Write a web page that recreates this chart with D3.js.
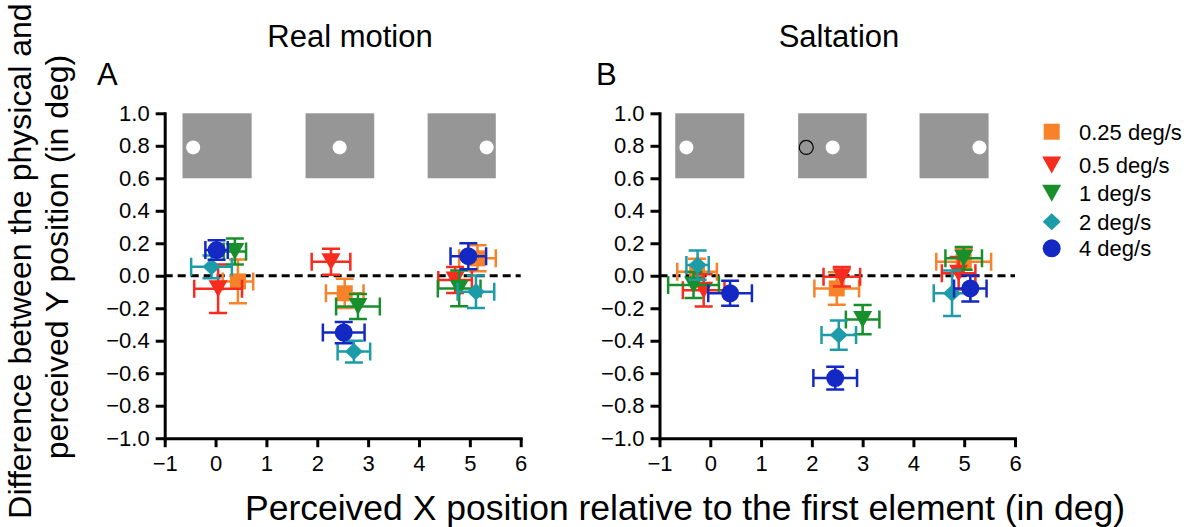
<!DOCTYPE html>
<html><head><meta charset="utf-8">
<script src="https://cdn.jsdelivr.net/npm/d3@7"></script>
<style>body{margin:0;background:#fff}svg{display:block}</style>
</head><body>
<svg id="chart" width="1188" height="527"></svg>
<script>
// ---------- data ----------
const speeds = ["0.25 deg/s", "0.5 deg/s", "1 deg/s", "2 deg/s", "4 deg/s"];
const colors = ["#f7822a", "#f52c1e", "#17902c", "#1c9ba8", "#1428c4"];
const shapes = ["square", "down", "down", "diamond", "circle"];

const xTicks = [-1, 0, 1, 2, 3, 4, 5, 6];
const yTicks = [-1.0, -0.8, -0.6, -0.4, -0.2, 0.0, 0.2, 0.4, 0.6, 0.8, 1.0];

// Panel A: Real motion (rows = speeds, columns = 3 stimulus positions)
const realX = [
  [0.44, 2.54, 5.15],
  [0.05, 2.27, 4.71],
  [0.38, 2.80, 4.79],
  [-0.08, 2.72, 5.12],
  [0.02, 2.52, 4.97]
];
const realY = [
  [-0.035, -0.108, 0.107],
  [-0.08, 0.086, -0.026],
  [0.15, -0.19, -0.078],
  [0.055, -0.467, -0.098],
  [0.158, -0.35, 0.12]
];
const realXErr = [
  [0.30, 0.37, 0.36],
  [0.47, 0.38, 0.33],
  [0.22, 0.43, 0.42],
  [0.40, 0.32, 0.36],
  [0.22, 0.41, 0.35]
];
const realYErr = [
  [0.135, 0.09, 0.08],
  [0.15, 0.08, 0.08],
  [0.08, 0.077, 0.11],
  [0.07, 0.067, 0.10],
  [0.06, 0.065, 0.08]
];

// Panel B: Saltation
const saltX = [
  [-0.26, 2.49, 4.99],
  [-0.13, 2.59, 4.89],
  [-0.33, 3.00, 4.99],
  [-0.25, 2.53, 4.76],
  [0.39, 2.46, 5.12]
];
const saltY = [
  [0.025, -0.078, 0.086],
  [-0.09, -0.006, 0.015],
  [-0.057, -0.27, 0.107],
  [0.066, -0.365, -0.108],
  [-0.108, -0.63, -0.078]
];
const saltXErr = [
  [0.39, 0.44, 0.54],
  [0.41, 0.36, 0.33],
  [0.50, 0.33, 0.36],
  [0.22, 0.34, 0.36],
  [0.43, 0.43, 0.32]
];
const saltYErr = [
  [0.08, 0.10, 0.08],
  [0.10, 0.06, 0.10],
  [0.08, 0.09, 0.07],
  [0.09, 0.09, 0.14],
  [0.077, 0.07, 0.08]
];

// Stimulus illustrations (data coordinates)
const boxY = [0.6, 1.0];
const dotY = 0.79;
const realBoxes = [[-0.65, 0.71], [1.77, 3.12], [4.17, 5.51]];
const realDots = [-0.44, 2.44, 5.33];
const saltBoxes = [[-0.69, 0.67], [1.73, 3.08], [4.12, 5.48]];
const saltDots = [-0.47, 2.41, 5.30];
const saltGhost = [1.89];

// ---------- layout ----------
const FONT = "'Liberation Sans', Arial, Helvetica, sans-serif";
const svg = d3.select("#chart");
const plotTop = 113.3, plotBottom = 438.2;

function symbolPath(shape) {
  if (shape === "square") { const s = 8; return `M${-s},${-s}H${s}V${s}H${-s}Z`; }
  if (shape === "down") { const w = 9.5, h = 8.5; return `M${-w},${-h}H${w}L0,${h}Z`; }
  if (shape === "diamond") { const w = 9, h = 8.5; return `M0,${-h}L${w},0L0,${h}L${-w},0Z`; }
  const r = 9; return `M${r},0A${r},${r} 0 1,1 ${-r},0A${r},${r} 0 1,1 ${r},0Z`;
}

function panel(left, right, X, Y, XE, YE, boxes, dots, ghosts, title, letter, titleX, letterX) {
  const x = d3.scaleLinear().domain([-1, 6]).range([left, right]);
  const y = d3.scaleLinear().domain([-1, 1]).range([plotBottom, plotTop]);
  const g = svg.append("g");

  // stimulus boxes
  g.selectAll("rect.box").data(boxes).join("rect")
    .attr("x", d => x(d[0])).attr("width", d => x(d[1]) - x(d[0]))
    .attr("y", y(boxY[1])).attr("height", y(boxY[0]) - y(boxY[1]))
    .attr("fill", "#969696");
  g.selectAll("circle.dot").data(dots).join("circle")
    .attr("cx", d => x(d)).attr("cy", y(dotY)).attr("r", 7).attr("fill", "#fff");
  g.selectAll("circle.ghost").data(ghosts).join("circle")
    .attr("cx", d => x(d)).attr("cy", y(dotY)).attr("r", 7)
    .attr("fill", "none").attr("stroke", "#000").attr("stroke-width", 1.2);

  // zero line
  g.append("line").attr("x1", x(-1)).attr("x2", x(6)).attr("y1", y(0)).attr("y2", y(0))
    .attr("stroke", "#000").attr("stroke-width", 3).attr("stroke-dasharray", "8,5");

  // axes
  const ya = g.append("g").attr("transform", `translate(${left},0)`)
    .call(d3.axisLeft(y).tickValues(yTicks).tickSize(9).tickSizeOuter(0).tickPadding(6).tickFormat(d3.format(".1f")));
  const xa = g.append("g").attr("transform", `translate(0,${plotBottom})`)
    .call(d3.axisBottom(x).tickValues(xTicks).tickSize(9).tickSizeOuter(0).tickPadding(8).tickFormat(d3.format("d")));
  [ya, xa].forEach(a => {
    a.select(".domain").attr("stroke", "#000").attr("stroke-width", 3).attr("stroke-linecap", "square");
    a.selectAll(".tick line").attr("stroke", "#000").attr("stroke-width", 3);
    a.selectAll(".tick text").attr("fill", "#000").style("font-family", FONT).style("font-size", "22px");
  });

  // data
  const cap = 9;
  speeds.forEach((s, i) => {
    const pts = X[i].map((xv, j) => ({ x: xv, y: Y[i][j], xe: XE[i][j], ye: YE[i][j] }));
    const sg = g.append("g").attr("stroke", colors[i]).attr("stroke-width", 2.5).attr("fill", "none");
    pts.forEach(p => {
      const cx = x(p.x), cy = y(p.y);
      const x0 = x(p.x - p.xe), x1 = x(p.x + p.xe), y0 = y(p.y - p.ye), y1 = y(p.y + p.ye);
      sg.append("path").attr("d",
        `M${x0},${cy}H${x1}M${x0},${cy - cap}V${cy + cap}M${x1},${cy - cap}V${cy + cap}` +
        `M${cx},${y0}V${y1}M${cx - cap},${y0}H${cx + cap}M${cx - cap},${y1}H${cx + cap}`);
    });
    g.append("g").selectAll("path").data(pts).join("path")
      .attr("transform", p => `translate(${x(p.x)},${y(p.y)})`)
      .attr("d", symbolPath(shapes[i])).attr("fill", colors[i]);
  });

  svg.append("text").attr("x", titleX).attr("y", 47).attr("text-anchor", "middle")
    .style("font-family", FONT).style("font-size", "31px").text(title);
  svg.append("text").attr("x", letterX).attr("y", 85)
    .style("font-family", FONT).style("font-size", "31px").text(letter);
}

panel(164.7, 520.7, realX, realY, realXErr, realYErr, realBoxes, realDots, [], "Real motion", "A", 350, 97);
panel(659.5, 1015, saltX, saltY, saltXErr, saltYErr, saltBoxes, saltDots, saltGhost, "Saltation", "B", 839, 596);

// axis titles
const yl = svg.append("g").style("font-family", FONT).style("font-size", "32px").attr("text-anchor", "middle");
yl.append("text").attr("transform", "translate(31,261) rotate(-90)").text("Difference between the physical and");
yl.append("text").attr("transform", "translate(68,257) rotate(-90)").text("perceived Y position (in deg)");
svg.append("text").attr("x", 245).attr("y", 520).style("font-family", FONT).style("font-size", "35.5px")
  .text("Perceived X position relative to the first element (in deg)");

// legend
const legendY = [131.7, 165, 193.3, 221.7, 248.3];
const lg = svg.append("g");
speeds.forEach((s, i) => {
  lg.append("path").attr("transform", `translate(1051.7,${legendY[i]})`)
    .attr("d", symbolPath(shapes[i])).attr("fill", colors[i]);
  lg.append("text").attr("x", 1079).attr("y", legendY[i]).attr("dy", "0.36em")
    .style("font-family", FONT).style("font-size", "22px").text(s);
});
</script>
</body></html>
